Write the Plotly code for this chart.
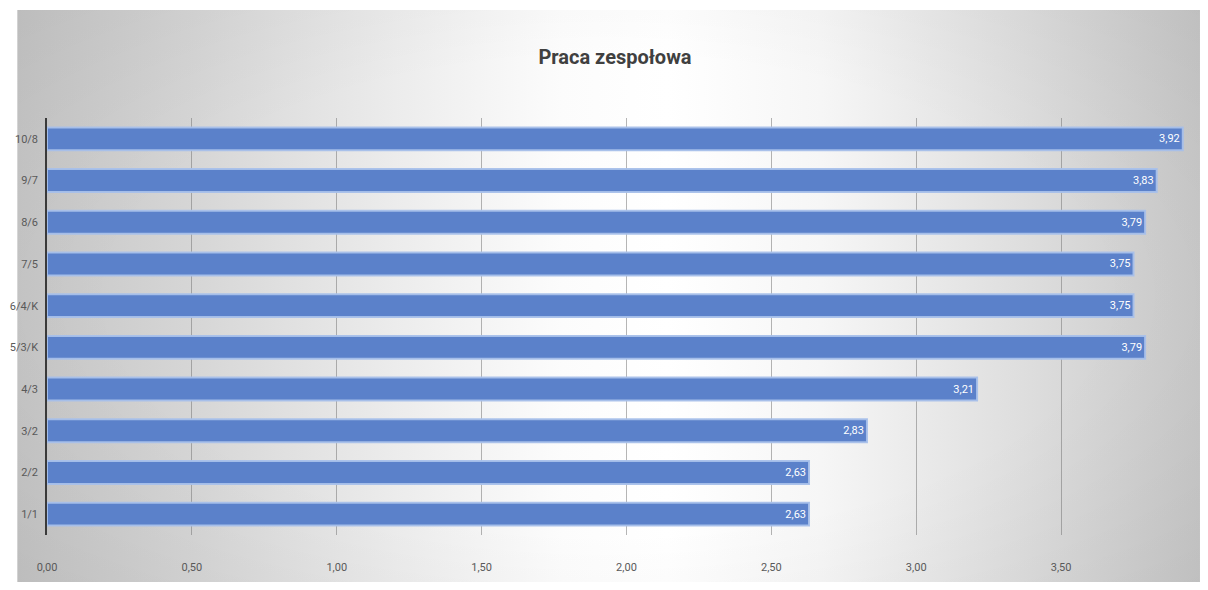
import base64
import plotly.graph_objects as go

categories = ["10/8", "9/7", "8/6", "7/5", "6/4/K", "5/3/K", "4/3", "3/2", "2/2", "1/1"]
values = [3.92, 3.83, 3.79, 3.75, 3.75, 3.79, 3.21, 2.83, 2.63, 2.63]
x_ticks = [0, 0.5, 1, 1.5, 2, 2.5, 3, 3.5, 4]
title_text = "Praca zespołowa"

FONT = "Roboto, Liberation Sans Narrow, sans-serif"

# figure sits at an 8px offset in the page (default body margin); keep it inside the window
W, H = 1192, 574
ml, mr, mt, mb = 32, 2, 110, 47
pw, ph = W - ml - mr, H - mt - mb
px_per_unit = 291.5
x_max = pw / px_per_unit
bg_x0, bg_y0 = 2, 2
bgw, bgh = W - bg_x0, H - bg_y0

svg = f"""<svg xmlns='http://www.w3.org/2000/svg' width='{bgw}' height='{bgh}' viewBox='0 0 {bgw} {bgh}' preserveAspectRatio='none'>
<defs>
<linearGradient id='g' x1='0' y1='0' x2='1' y2='0'>
<stop offset='0' stop-color='#c5c5c5'/>
<stop offset='0.15' stop-color='#d6d6d6'/>
<stop offset='0.32' stop-color='#ececec'/>
<stop offset='0.46' stop-color='#fcfcfc'/>
<stop offset='0.55' stop-color='#ffffff'/>
<stop offset='0.68' stop-color='#f6f6f6'/>
<stop offset='0.85' stop-color='#dedede'/>
<stop offset='1' stop-color='#c8c8c8'/>
</linearGradient>
<radialGradient id='v' cx='0.5' cy='0.5' r='0.75' gradientUnits='objectBoundingBox'>
<stop offset='0.55' stop-color='#000000' stop-opacity='0'/>
<stop offset='1' stop-color='#000000' stop-opacity='0.05'/>
</radialGradient>
</defs>
<rect x='0' y='0' width='{bgw}' height='{bgh}' fill='url(#g)'/>
<rect x='0' y='0' width='{bgw}' height='{bgh}' fill='url(#v)'/></svg>"""
svg_uri = "data:image/svg+xml;base64," + base64.b64encode(svg.encode()).decode()

fig = go.Figure(
    go.Bar(
        x=values,
        y=categories,
        orientation="h",
        marker=dict(color="#5b81ca", line=dict(color="rgba(168,192,234,0.95)", width=2)),
        texttemplate="%{x:.2f}",
        textposition="inside",
        insidetextanchor="end",
        textfont=dict(family=FONT, size=11, color="white"),
        hoverinfo="skip",
    )
)

fig.update_layout(
    width=W,
    height=H,
    margin=dict(l=ml, r=mr, t=mt, b=mb, pad=0),
    paper_bgcolor="white",
    plot_bgcolor="rgba(0,0,0,0)",
    separators=", ",
    bargap=0.45,
    showlegend=False,
    title=dict(
        text="<b>" + title_text + "</b>",
        x=607 / W,
        xanchor="center",
        y=1 - 49 / H,
        yanchor="middle",
        font=dict(family=FONT, size=20, color="#404040"),
    ),
    images=[
        dict(
            source=svg_uri,
            xref="paper",
            yref="paper",
            x=(bg_x0 - ml) / pw,
            y=(mt + ph - bg_y0) / ph,
            sizex=bgw / pw,
            sizey=bgh / ph,
            xanchor="left",
            yanchor="top",
            sizing="stretch",
            layer="below",
        )
    ],
    xaxis=dict(
        range=[0, x_max],
        tickvals=x_ticks,
        tickformat=".2f",
        showgrid=True,
        gridcolor="rgba(120,120,120,0.55)",
        gridwidth=1,
        zeroline=False,
        showline=False,
        ticks="",
        ticklabelstandoff=24,
        tickfont=dict(family=FONT, size=11, color="#595959"),
        fixedrange=True,
    ),
    yaxis=dict(
        categoryorder="array",
        categoryarray=categories[::-1],
        showgrid=False,
        zeroline=False,
        showline=True,
        linecolor="#3a3a3a",
        linewidth=1.5,
        ticks="",
        ticklabelstandoff=5,
        tickfont=dict(family=FONT, size=11, color="#595959"),
        fixedrange=True,
    ),
)

fig.write_html("out.html")
